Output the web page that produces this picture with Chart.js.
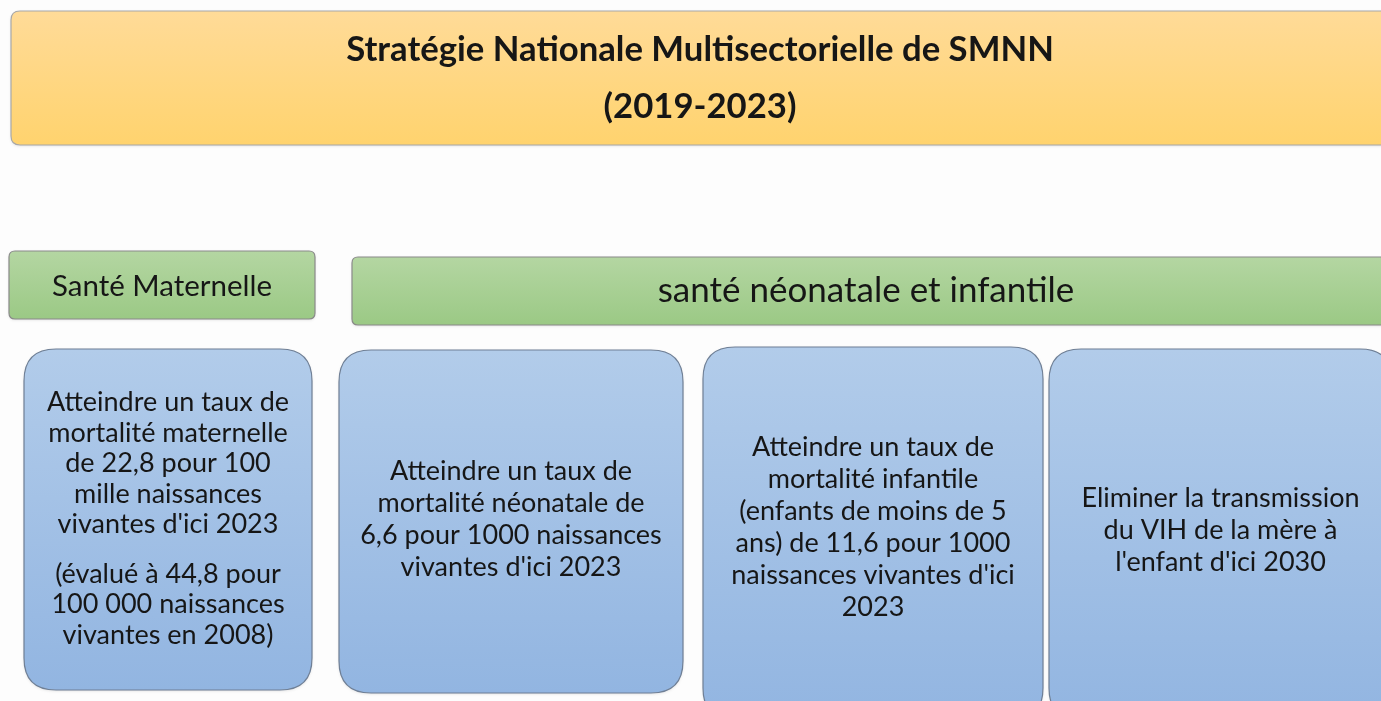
<!DOCTYPE html>
<html><head><meta charset="utf-8">
<script src="https://cdn.jsdelivr.net/npm/chart.js@4"></script>
<style>html,body{margin:0;padding:0;background:#fdfdfd;overflow:hidden}#wrap{width:1381px;height:701px}</style>
</head><body><div id="wrap"><canvas id="c" width="1381" height="701"></canvas></div>
<script>
// ---- content ----
const titleLines = ["Stratégie Nationale Multisectorielle de SMNN", "(2019-2023)"];
const headerLabels = ["Santé Maternelle", "santé néonatale et infantile"];
const objectiveTexts = [
  [["Atteindre un taux de","mortalité maternelle","de 22,8 pour 100","mille naissances","vivantes d'ici 2023"],["(évalué à 44,8 pour","100 000 naissances","vivantes en 2008)"]],
  [["Atteindre un taux de","mortalité néonatale de","6,6 pour 1000 naissances","vivantes d'ici 2023"]],
  [["Atteindre un taux de","mortalité infantile","(enfants de moins de 5","ans) de 11,6 pour 1000","naissances vivantes d'ici","2023"]],
  [["Eliminer la transmission","du VIH de la mère à","l'enfant d'ici 2030"]]
];

// ---- layout (x0, y0, x1, y1 in diagram units) ----
const titleBox = [11, 11, 1392, 145];
const headerBoxes = [[9, 251, 315, 319], [352, 257, 1392, 325]];
const objectiveBoxes = [[24, 349, 312, 690], [339, 350, 683, 693], [703, 347, 1043, 720], [1049, 349, 1392, 720]];

const FONT = "Lato, 'Open Sans', sans-serif";

function rr(ctx, x0, y0, x1, y1, r) {
  ctx.beginPath();
  ctx.moveTo(x0 + r, y0);
  ctx.lineTo(x1 - r, y0); ctx.quadraticCurveTo(x1, y0, x1, y0 + r);
  ctx.lineTo(x1, y1 - r); ctx.quadraticCurveTo(x1, y1, x1 - r, y1);
  ctx.lineTo(x0 + r, y1); ctx.quadraticCurveTo(x0, y1, x0, y1 - r);
  ctx.lineTo(x0, y0 + r); ctx.quadraticCurveTo(x0, y0, x0 + r, y0);
  ctx.closePath();
}

function drawBox(chart, b, r, c0, c1, stroke) {
  const {ctx, scales: {x, y}} = chart;
  const x0 = x.getPixelForValue(b[0]), x1 = x.getPixelForValue(b[2]);
  const y0 = y.getPixelForValue(b[1]), y1 = y.getPixelForValue(b[3]);
  const g = ctx.createLinearGradient(0, y0, 0, y1);
  g.addColorStop(0, c0); g.addColorStop(1, c1);
  ctx.save();
  ctx.shadowColor = 'rgba(0,0,0,0.12)'; ctx.shadowBlur = 3; ctx.shadowOffsetY = 1;
  rr(ctx, x0, y0, x1, y1, r);
  ctx.fillStyle = g; ctx.fill();
  ctx.shadowColor = 'transparent';
  ctx.lineWidth = 1.2; ctx.strokeStyle = stroke; ctx.stroke();
  ctx.restore();
  return {cx: (x0 + x1) / 2, x0, x1, y0, y1};
}

function drawLines(ctx, cx, cy, paras, size, lh, gap, weight) {
  let n = 0; paras.forEach(p => n += p.length);
  const total = (n - 1) * lh + (paras.length - 1) * gap;
  let yy = cy - total / 2;
  ctx.save();
  ctx.fillStyle = '#161616';
  ctx.font = (weight || '') + ' ' + size + 'px ' + FONT;
  ctx.textAlign = 'center'; ctx.textBaseline = 'middle';
  paras.forEach((p, pi) => {
    p.forEach(line => { ctx.fillText(line, cx, yy); yy += lh; });
    yy += gap;
  });
  ctx.restore();
}

const diagramPlugin = {
  id: 'diagram',
  beforeDatasetsDraw(chart) {
    const ctx = chart.ctx;
    const {y} = chart.scales;
    drawBox(chart, titleBox, 9, '#FFDB98', '#FFD36E', '#a8a8a8');
    drawLines(ctx, 700, y.getPixelForValue(78), [titleLines], 34.7, 57, 0, 'bold');
    const hb = headerBoxes.map(b => drawBox(chart, b, 6, '#B4D6A2', '#9BC985', '#8a8a8a'));
    drawLines(ctx, hb[0].cx, y.getPixelForValue(286), [[headerLabels[0]]], 29.5, 30, 0, '');
    drawLines(ctx, 866, y.getPixelForValue(291), [[headerLabels[1]]], 35, 30, 0, '');
    const centersY = [519, 519, 527, 530];
    objectiveBoxes.forEach((b, i) => {
      const ob = drawBox(chart, b, 32, '#B2CCEA', '#92B5E1', '#6f7f95');
      drawLines(ctx, ob.cx, y.getPixelForValue(centersY[i]), objectiveTexts[i], 27, i === 0 ? 30.5 : 32, 19, '');
    });
  }
};

new Chart(document.getElementById('c'), {
  type: 'scatter',
  data: {datasets: [{data: [], pointRadius: 0}]},
  options: {
    responsive: false, animation: false, events: [],
    layout: {padding: 0},
    plugins: {legend: {display: false}, tooltip: {enabled: false}},
    scales: {
      x: {type: 'linear', min: 0, max: 1381, display: false},
      y: {type: 'linear', min: 0, max: 701, reverse: true, display: false}
    }
  },
  plugins: [diagramPlugin]
});
</script></body></html>
